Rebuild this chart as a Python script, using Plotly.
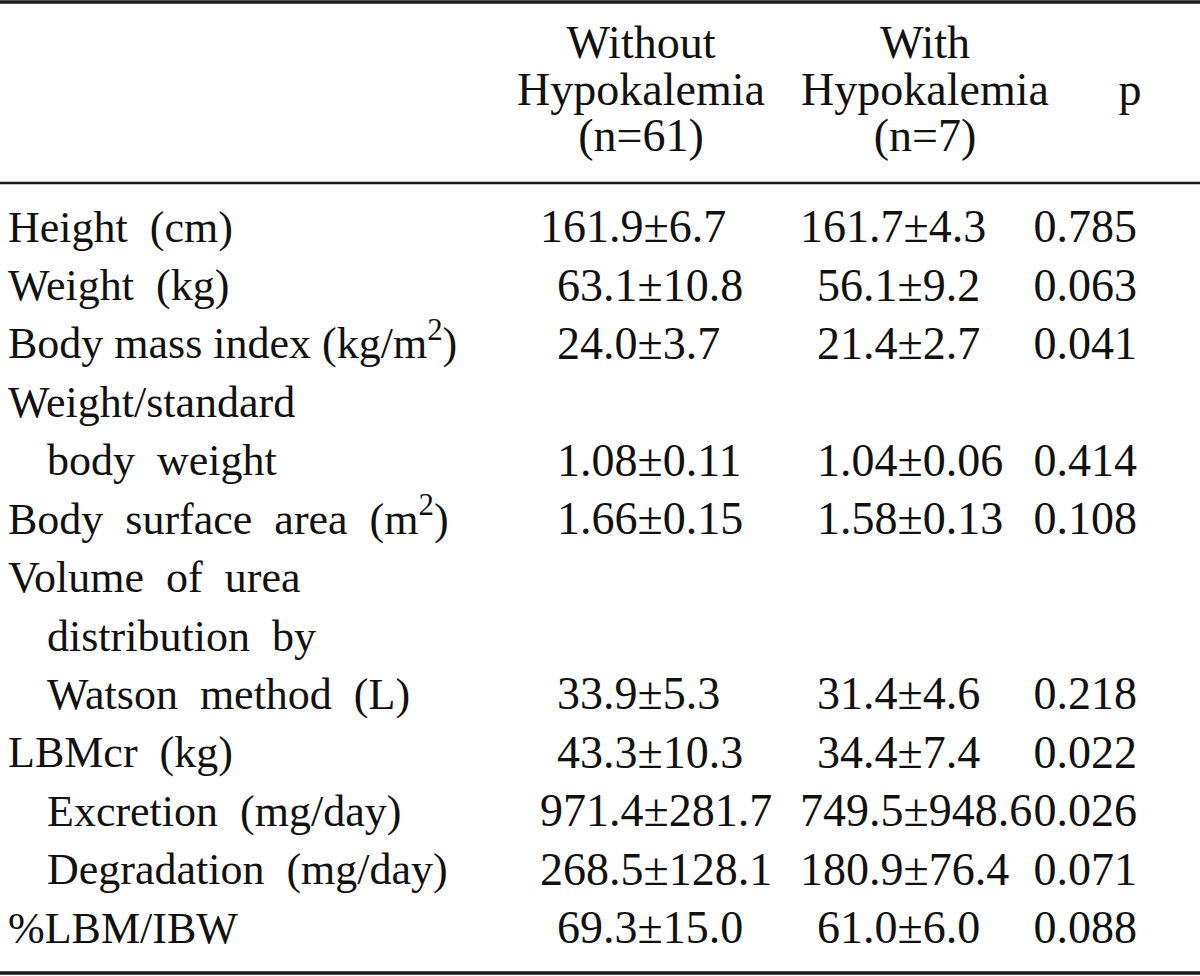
import plotly.graph_objects as go

# ---------------- data ----------------
header_without = ["Without", "Hypokalemia", "(n=61)"]
header_with = ["With", "Hypokalemia", "(n=7)"]
header_p = ["p"]

row_labels = [
    "Height (cm)",
    "Weight (kg)",
    "Body mass index (kg/m<sup>2</sup>)",
    "Weight/standard",
    "body weight",
    "Body surface area (m<sup>2</sup>)",
    "Volume of urea",
    "distribution by",
    "Watson method (L)",
    "LBMcr (kg)",
    "Excretion (mg/day)",
    "Degradation (mg/day)",
    "%LBM/IBW",
]
row_indented = [0, 0, 0, 0, 1, 0, 0, 1, 1, 0, 1, 1, 0]

without_hypokalemia = ["161.9±6.7", "63.1±10.8", "24.0±3.7", "", "1.08±0.11", "1.66±0.15",
                       "", "", "33.9±5.3", "43.3±10.3", "971.4±281.7", "268.5±128.1", "69.3±15.0"]
with_hypokalemia = ["161.7±4.3", "56.1±9.2", "21.4±2.7", "", "1.04±0.06", "1.58±0.13",
                    "", "", "31.4±4.6", "34.4±7.4", "749.5±948.6", "180.9±76.4", "61.0±6.0"]
p_values = ["0.785", "0.063", "0.041", "", "0.414", "0.108",
            "", "", "0.218", "0.022", "0.026", "0.071", "0.088"]

# ---------------- layout constants ----------------
W, H = 1200, 976
FS_LABEL = 44
FS_NUM = 46
FONT = "Liberation Serif"
INK = "#111111"

row_base0, row_pitch = 246, 58.42
head_base0, head_pitch = 63, 46.5

row_y = [row_base0 + row_pitch * i - 0.35 * FS_LABEL for i in range(len(row_labels))]
head_y = [head_base0 + head_pitch * i - 0.35 * FS_NUM for i in range(len(header_without))]

# the long BMI label keeps plain word spaces; the others get the wide spacing of the original
PLAIN_SPACED = {"Body mass index (kg/m<sup>2</sup>)"}


def spaced(s):
    return s if s in PLAIN_SPACED else s.replace(" ", "\u2002")


def num_x(val, base3, base):
    # three-digit means stick out to the left
    return base3 if len(val.split(".")[0]) >= 3 else base


fig = go.Figure()

# header
head_font = dict(family=FONT, size=FS_NUM, color=INK)
fig.add_trace(go.Scatter(x=[641] * 3, y=head_y, text=header_without, mode="text",
                         textposition="middle center", textfont=head_font))
fig.add_trace(go.Scatter(x=[925] * 3, y=head_y, text=header_with, mode="text",
                         textposition="middle center", textfont=head_font))
fig.add_trace(go.Scatter(x=[1130], y=[head_y[1]], text=header_p, mode="text",
                         textposition="middle center", textfont=head_font))

# row labels
fig.add_trace(go.Scatter(
    x=[47 if ind else 8 for ind in row_indented], y=row_y,
    text=[spaced(s) for s in row_labels], mode="text", textposition="middle right",
    textfont=dict(family=FONT, size=FS_LABEL, color=INK)))

# value columns
num_font = dict(family=FONT, size=FS_NUM, color=INK)
idx = [i for i, v in enumerate(without_hypokalemia) if v]
fig.add_trace(go.Scatter(
    x=[num_x(without_hypokalemia[i], 540, 557) for i in idx], y=[row_y[i] for i in idx],
    text=[without_hypokalemia[i] for i in idx], mode="text", textposition="middle right",
    textfont=num_font))
fig.add_trace(go.Scatter(
    x=[num_x(with_hypokalemia[i], 800, 817) for i in idx], y=[row_y[i] for i in idx],
    text=[with_hypokalemia[i] for i in idx], mode="text", textposition="middle right",
    textfont=num_font))
fig.add_trace(go.Scatter(
    x=[1137] * len(idx), y=[row_y[i] for i in idx],
    text=[p_values[i] for i in idx], mode="text", textposition="middle left",
    textfont=num_font))

fig.update_traces(showlegend=False, hoverinfo="skip")

# rules
for yy, w in [(2, 3.5), (183, 2.5), (973, 3.5)]:
    fig.add_shape(type="line", x0=0, x1=W, y0=yy, y1=yy, xref="x", yref="y",
                  line=dict(color="#1a1a1a", width=w))

fig.update_layout(
    width=W, height=H, margin=dict(l=0, r=0, t=0, b=0),
    paper_bgcolor="white", plot_bgcolor="white",
    xaxis=dict(range=[0, W], visible=False, fixedrange=True),
    yaxis=dict(range=[H, 0], visible=False, fixedrange=True),
)

fig.write_html("out.html", config={"displayModeBar": False},
               post_script="document.body.style.margin='0px';document.body.style.overflow='hidden';")
